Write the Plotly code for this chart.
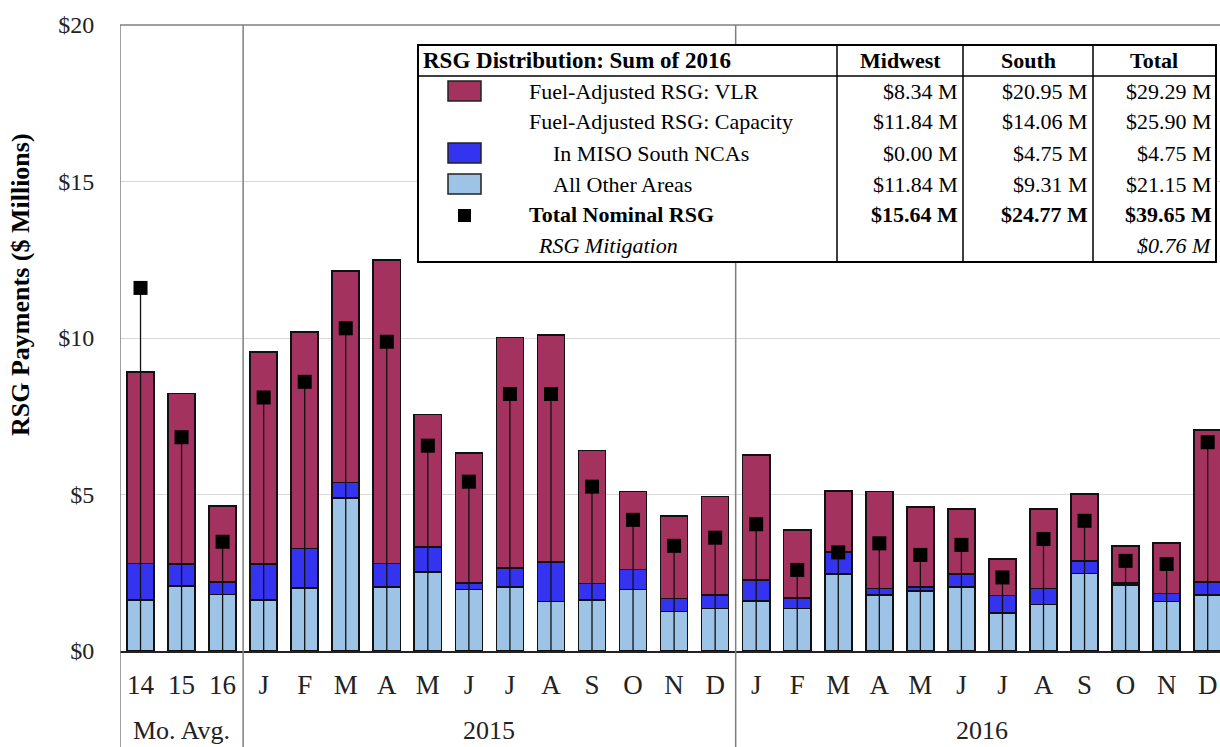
import plotly.graph_objects as go

# categories
cat_labels = ["14", "15", "16", "J", "F", "M", "A", "M", "J", "J", "A", "S", "O", "N", "D",
              "J", "F", "M", "A", "M", "J", "J", "A", "S", "O", "N", "D"]
group_labels = ["Mo. Avg.", "2015", "2016"]

# stacked segments ($ millions)
other_areas = [1.63, 2.08, 1.81, 1.63, 2.02, 4.88, 2.05, 2.53, 1.97, 2.05, 1.58, 1.63, 1.97, 1.26, 1.36,
               1.60, 1.36, 2.46, 1.79, 1.92, 2.05, 1.22, 1.49, 2.48, 2.11, 1.58, 1.79]
miso_south = [1.17, 0.70, 0.40, 1.15, 1.26, 0.50, 0.75, 0.80, 0.21, 0.61, 1.27, 0.53, 0.64, 0.42, 0.43,
              0.67, 0.34, 0.71, 0.21, 0.13, 0.41, 0.55, 0.51, 0.40, 0.07, 0.26, 0.42]
vlr = [6.12, 5.45, 2.42, 6.78, 6.92, 6.76, 9.69, 4.23, 4.14, 7.35, 7.25, 4.24, 2.48, 2.63, 3.14,
       3.99, 2.17, 1.95, 3.09, 2.56, 2.08, 1.16, 2.54, 2.14, 1.18, 1.62, 4.85]
total_nominal = [11.6, 6.83, 3.49, 8.10, 8.60, 10.31, 9.88, 6.56, 5.41, 8.21, 8.21, 5.25, 4.19, 3.36, 3.62,
                 4.05, 2.59, 3.15, 3.44, 3.07, 3.39, 2.35, 3.58, 4.16, 2.88, 2.78, 6.67]

# summary table
table_title = "RSG Distribution: Sum of 2016"
table_cols = ["Midwest", "South", "Total"]
table_rows = ["Fuel-Adjusted RSG: VLR", "Fuel-Adjusted RSG: Capacity", "In MISO South NCAs",
              "All Other Areas", "Total Nominal RSG", "RSG Mitigation"]
midwest_vals = ["$8.34 M", "$11.84 M", "$0.00 M", "$11.84 M", "$15.64 M", ""]
south_vals = ["$20.95 M", "$14.06 M", "$4.75 M", "$9.31 M", "$24.77 M", ""]
total_vals = ["$29.29 M", "$25.90 M", "$4.75 M", "$21.15 M", "$39.65 M", "$0.76 M"]

C_VLR = "#A3325F"
C_MISO = "#3434F0"
C_OTHER = "#9DC3E6"
FONT = "Liberation Serif"

W, H = 1220, 747
L, R, T, B = 120, 0, 25, 96
pw, ph = W - L - R, H - T - B


# positions below are given in window pixels
def px(x):
    return (x - L) / pw


def py(y):
    return (T + ph - y) / ph


x = list(range(len(cat_labels)))
fig = go.Figure()
for vals, col in [(other_areas, C_OTHER), (miso_south, C_MISO), (vlr, C_VLR)]:
    fig.add_trace(go.Bar(x=x, y=vals, marker=dict(color=col, line=dict(color="#111111", width=1.6)),
                         showlegend=False))
fig.add_trace(go.Scatter(
    x=x, y=total_nominal, mode="markers",
    marker=dict(symbol="square", size=14, color="black"),
    error_y=dict(type="data", symmetric=False, array=[0] * len(x), arrayminus=total_nominal,
                 color="#111111", thickness=1.3, width=0),
    showlegend=False,
))

shapes = []
# frame and separators
for xv in [-0.5, 2.5, 14.5]:
    shapes.append(dict(type="line", xref="x", yref="paper", x0=xv, x1=xv, y0=py(760), y1=1,
                       line=dict(color="#7F7F7F", width=1.5)))
shapes.append(dict(type="line", xref="paper", yref="paper", x0=0, x1=1, y0=1, y1=1,
                   line=dict(color="#7F7F7F", width=1.5)))

# table frame
tx0, tx1, ty0, ty1 = 418, 1216, 45, 262
shapes.append(dict(type="rect", xref="paper", yref="paper", x0=px(tx0), x1=px(tx1), y0=py(ty1), y1=py(ty0),
                   fillcolor="white", line=dict(color="black", width=2), layer="above"))
shapes.append(dict(type="line", xref="paper", yref="paper", x0=px(tx0), x1=px(tx1), y0=py(76), y1=py(76),
                   line=dict(color="black", width=1.5), layer="above"))
for cx in [837, 963, 1093]:
    shapes.append(dict(type="line", xref="paper", yref="paper", x0=px(cx), x1=px(cx), y0=py(ty1), y1=py(ty0),
                       line=dict(color="black", width=1.5), layer="above"))

# legend swatches
row_y = [91, 122, 153, 184, 215, 245]
for ri, col in [(0, C_VLR), (2, C_MISO), (3, C_OTHER)]:
    yc = row_y[ri]
    shapes.append(dict(type="rect", xref="paper", yref="paper", x0=px(448), x1=px(481),
                       y0=py(yc + 10), y1=py(yc - 10), fillcolor=col,
                       line=dict(color="#222222", width=1.5), layer="above"))
shapes.append(dict(type="rect", xref="paper", yref="paper", x0=px(458), x1=px(471),
                   y0=py(row_y[4] + 7), y1=py(row_y[4] - 6), fillcolor="black",
                   line=dict(color="black", width=0), layer="above"))

ann = []
tf = dict(family=FONT, size=22, color="black")
ann.append(dict(text="<b>" + table_title + "</b>", xref="paper", yref="paper", x=px(421), y=py(61),
                xanchor="left", yanchor="middle", showarrow=False, font=dict(family=FONT, size=23, color="black")))
for cx, name in zip([900, 1028, 1154], table_cols):
    ann.append(dict(text="<b>" + name + "</b>", xref="paper", yref="paper", x=px(cx), y=py(61),
                    xanchor="center", yanchor="middle", showarrow=False, font=tf))
label_x = [527, 527, 551, 551, 527, 536]
for i, lab in enumerate(table_rows):
    txt = lab
    if i == 4:
        txt = "<b>" + lab + "</b>"
    if i == 5:
        txt = "<i>" + lab + "</i>"
    ann.append(dict(text=txt, xref="paper", yref="paper", x=px(label_x[i]), y=py(row_y[i]),
                    xanchor="left", yanchor="middle", showarrow=False, font=tf))
    for rx, vals in zip([960, 1090, 1214], [midwest_vals, south_vals, total_vals]):
        v = vals[i]
        if not v:
            continue
        if i == 4:
            v = "<b>" + v + "</b>"
        if i == 5:
            v = "<i>" + v + "</i>"
        ann.append(dict(text=v, xref="paper", yref="paper", x=px(rx), y=py(row_y[i]),
                        xanchor="right", yanchor="middle", showarrow=False, font=tf))

# group labels under the axis
for gx, g in zip([1, 8.5, 20.5], group_labels):
    ann.append(dict(text=g, xref="x", yref="paper", x=gx, y=py(731), xanchor="center", yanchor="middle",
                    showarrow=False, font=dict(family=FONT, size=26, color="#222222")))

# y axis title
ann.append(dict(text="<b>RSG Payments ($ Millions)</b>", xref="paper", yref="paper", x=px(20), y=py(285),
                textangle=-90, xanchor="center", yanchor="middle", showarrow=False,
                font=dict(family=FONT, size=26, color="black")))

fig.update_layout(
    barmode="stack",
    bargap=0.34,
    width=W, height=H,
    margin=dict(l=L, r=R, t=T, b=B),
    paper_bgcolor="white",
    plot_bgcolor="white",
    shapes=shapes,
    annotations=ann,
    font=dict(family=FONT, size=22, color="#222222"),
    xaxis=dict(range=[-0.5, 26.3], tickvals=x, ticktext=cat_labels, showgrid=False,
               ticks="outside", ticklen=9, tickcolor="rgba(0,0,0,0)",
               tickfont=dict(size=27),
               showline=True, linecolor="#222222", linewidth=1.5, zeroline=False),
    yaxis=dict(range=[0, 20], tickvals=[0, 5, 10, 15, 20], ticktext=["$0", "$5", "$10", "$15", "$20"],
               showgrid=True, gridcolor="#D9D9D9", gridwidth=1, zeroline=False,
               tickfont=dict(size=24),
               ticks="outside", ticklen=20, tickcolor="rgba(0,0,0,0)", showline=False),
)

# drop the default 8px page margin so the figure fills the window
fig.write_html("out.html", config={"displayModeBar": False},
               post_script="document.body.style.margin='0';document.body.style.overflow='hidden';")
